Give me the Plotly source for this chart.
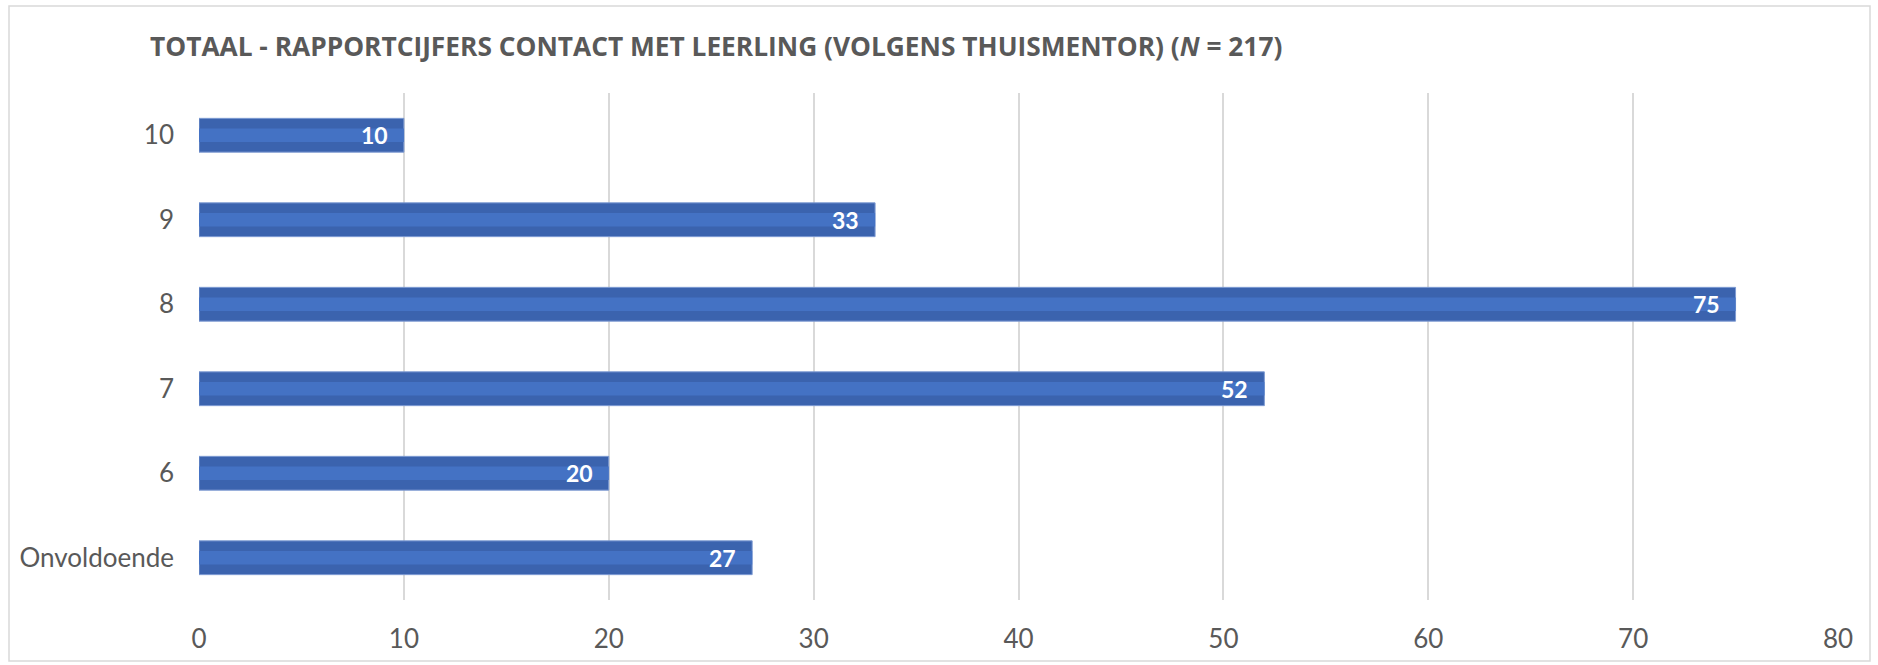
import plotly.graph_objects as go

# Rapportcijfers contact met leerling (volgens thuismentor), N = 217
categories = ['Onvoldoende', '6', '7', '8', '9', '10']
counts = [27, 20, 52, 75, 33, 10]
x_ticks = [0, 10, 20, 30, 40, 50, 60, 70, 80]

title_text = ('TOTAAL - RAPPORTCIJFERS CONTACT MET LEERLING (VOLGENS THUISMENTOR) '
              '(<i>N</i> = 217)')

W, H = 1878, 665
L, R, T, B = 199, 40, 93, 65

fig = go.Figure()

# outer bar (darker edge)
fig.add_trace(go.Bar(
    x=counts,
    y=categories,
    orientation='h',
    width=0.4,
    marker=dict(color='#3B63AE', line=dict(color='#7E9BD3', width=1)),
    hoverinfo='skip',
    showlegend=False
))

# lighter inner band
fig.add_trace(go.Bar(
    x=counts,
    y=categories,
    orientation='h',
    width=0.16,
    marker=dict(color='#4472C4', line=dict(width=0)),
    hovertemplate='%{y}: %{x}<extra></extra>',
    showlegend=False
))

# value labels inside the bar end (y as category index)
for i, v in enumerate(counts):
    fig.add_annotation(
        x=v, y=i, text=f'<b>{v}</b>',
        xanchor='right', yanchor='middle',
        xshift=-14, showarrow=False,
        font=dict(family='Lato', size=23, color='white')
    )

# light grey frame round the whole chart
pw, ph = W - L - R, H - T - B
fig.add_shape(
    type='rect', xref='paper', yref='paper',
    x0=(9 - L) / pw, x1=(W - 8 - L) / pw,
    y0=(T + ph - (H - 4)) / ph, y1=(T + ph - 6) / ph,
    line=dict(color='#D9D9D9', width=1.5),
    layer='below'
)

fig.update_layout(
    title=dict(text=title_text, x=150 / W, xanchor='left', xref='container',
               y=1 - 47 / H, yanchor='middle', yref='container',
               font=dict(family='Open Sans', size=26.3, color='#595959', weight='bold')),
    barmode='overlay',
    xaxis=dict(
        range=[0, 80],
        tickvals=x_ticks,
        showgrid=True,
        gridcolor='#D9D9D9',
        gridwidth=1.5,
        zeroline=False,
        showline=False,
        ticks='',
        ticklabelstandoff=21,
        automargin=False,
        tickfont=dict(family='Lato', size=26, color='#595959')
    ),
    yaxis=dict(
        type='category',
        categoryorder='array',
        categoryarray=categories,
        showgrid=False,
        zeroline=False,
        showline=False,
        ticks='',
        ticklabelstandoff=24,
        automargin=False,
        tickfont=dict(family='Lato', size=26, color='#595959')
    ),
    plot_bgcolor='white',
    paper_bgcolor='white',
    width=W,
    height=H,
    margin=dict(l=L, r=R, t=T, b=B)
)

# drop the browser's default 8px body margin so the chart sits at the page origin
fig.write_html('out.html', config={'displayModeBar': False},
               post_script="document.body.style.margin='0px';")
